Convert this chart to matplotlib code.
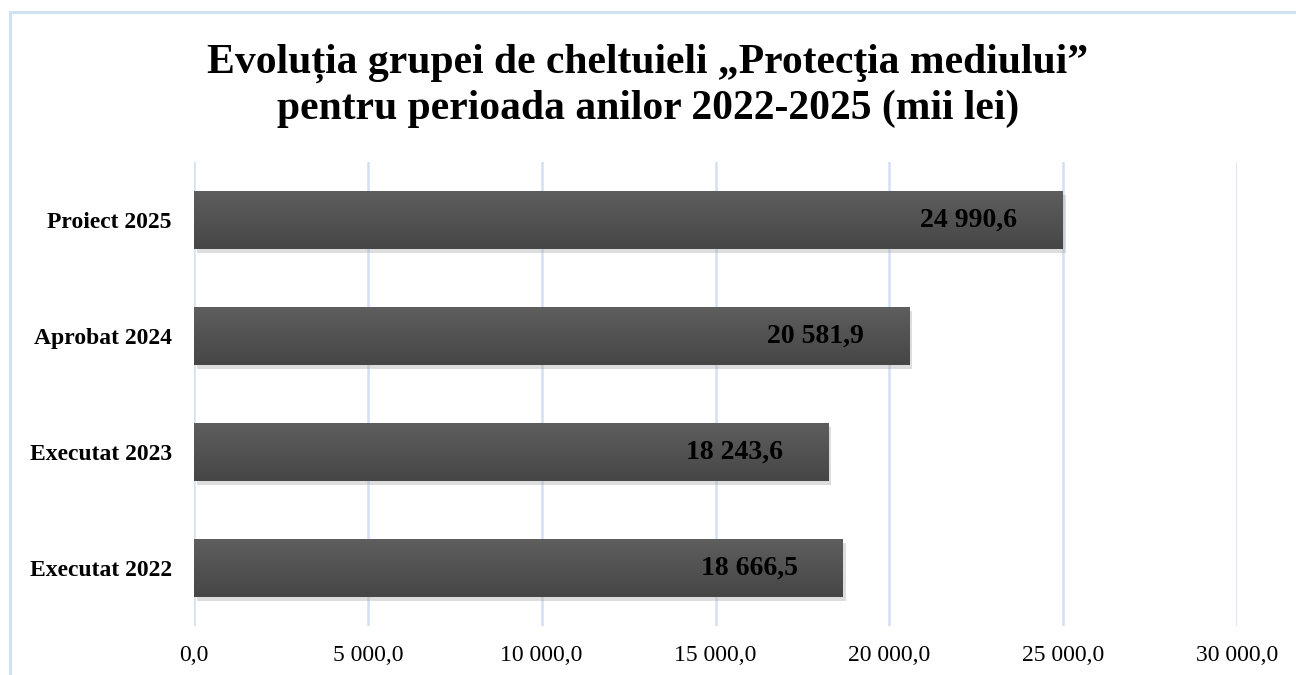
import matplotlib.pyplot as plt
import matplotlib.patheffects as pe
from matplotlib.patches import Rectangle
from matplotlib.colors import LinearSegmentedColormap
import numpy as np

# Data
categories = ["Executat 2022", "Executat 2023", "Aprobat 2024", "Proiect 2025"]
values = [18666.5, 18243.6, 20581.9, 24990.6]
labels = ["18 666,5", "18 243,6", "20 581,9", "24 990,6"]
xticks = [0, 5000, 10000, 15000, 20000, 25000, 30000]
xtick_labels = ["0,0", "5 000,0", "10 000,0", "15 000,0", "20 000,0", "25 000,0", "30 000,0"]

plt.rcParams['font.family'] = ['Liberation Serif', 'DejaVu Serif']

fig = plt.figure(figsize=(12.96, 6.75), dpi=100)
fig.patch.set_facecolor('white')

# light blue frame of the chart area (partly cut off)
frame = Rectangle((10 / 1296, -0.05), 1.2, 1 - 12 / 675 + 0.05, transform=fig.transFigure,
                  fill=False, edgecolor='#d2e0f3', linewidth=2.2)
fig.patches.append(frame)

ax = fig.add_axes([194 / 1296, 1 - 626 / 675, (1237 - 194) / 1296, 464 / 675])

y = np.arange(len(categories))
bars = ax.barh(y, values, height=0.5, color='#505050', zorder=3,
               path_effects=[pe.SimplePatchShadow(offset=(2, -3), shadow_rgbFace='#aaaaaa', alpha=0.4),
                             pe.Normal()])

# vertical gradient on bars: lighter on top, darker at bottom
grad = np.linspace(0, 1, 100).reshape(-1, 1)
cmap = LinearSegmentedColormap.from_list('bar', ['#464646', '#5e5e5e'])
for b in bars:
    x0, y0 = b.get_x(), b.get_y()
    im = ax.imshow(grad, cmap=cmap, aspect='auto', zorder=4,
                   extent=[x0, x0 + b.get_width(), y0 + b.get_height(), y0], origin='upper')
    im.set_clip_path(b)

for yi, v, lab in zip(y, values, labels):
    ax.text(v - 2700, yi, lab, ha='center', va='center', fontsize=20,
            fontweight='bold', color='black', zorder=5)

ax.set_xlim(0, 30000)
ax.set_ylim(-0.5, 3.5)
ax.set_xticks(xticks)
ax.set_xticklabels(xtick_labels, fontsize=17)
ax.set_yticks(y)
ax.set_yticklabels(categories, fontsize=17, fontweight='bold')
ax.tick_params(axis='both', length=0)
ax.tick_params(axis='x', pad=14)
ax.tick_params(axis='y', pad=16)
for s in ax.spines.values():
    s.set_visible(False)
ax.grid(axis='x', color='#d2e0f3', linewidth=1.8, zorder=0)
ax.set_axisbelow(True)

fig.text(0.5, 1 - 86 / 675, "Evoluția grupei de cheltuieli „Protecţia mediului”\npentru perioada anilor 2022-2025 (mii lei)",
         ha='center', va='center', fontsize=30, fontweight='bold', linespacing=1.2)

fig.savefig('out.png', dpi=100)
